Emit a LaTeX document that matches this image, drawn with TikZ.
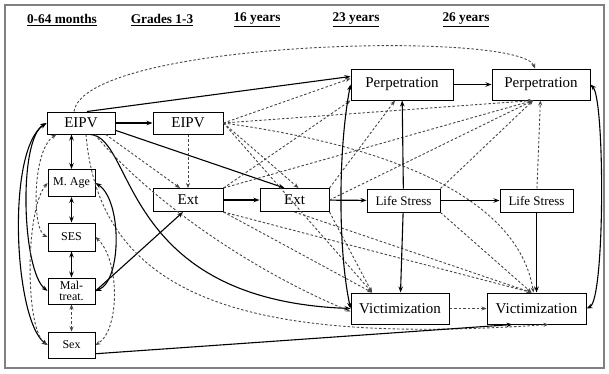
\documentclass[tikz,border=0pt]{standalone}
\usepackage{fontspec}
\setmainfont{Liberation Serif}
\usetikzlibrary{arrows.meta}
\tikzset{
  box/.style={draw,line width=1pt,inner sep=0pt,font=\fontsize{15}{16}\selectfont},
  sbox/.style={box,font=\fontsize{12}{12.5}\selectfont},
  hdr/.style={font=\fontsize{13.3}{14}\selectfont\bfseries},
  sol/.style={black,line width=1.1pt,-{Stealth[length=6pt,width=4.5pt]}},
  both/.style={sol,{Stealth[length=6pt,width=4.5pt]}-{Stealth[length=6pt,width=4.5pt]}},
  dsh/.style={gray!55!black,line width=0.9pt,dash pattern=on 2.5pt off 2pt,-{Stealth[length=5pt,width=4pt]}},
  dboth/.style={dsh,{Stealth[length=5pt,width=4pt]}-{Stealth[length=5pt,width=4pt]}},
}
\begin{document}
\begin{tikzpicture}[x=1pt,y=-1pt]
		\useasboundingbox (0,0) rectangle (609,373);
		\draw[gray,line width=1.5pt](5,5) rectangle (604,368);
		
		\node[hdr](h1) at (62,20){\underline{0-64 months}};
		\node[hdr](h2) at (162,20){\underline{Grades 1-3}};
		\node[hdr](h3) at (257,20){\underline{16 years}};
		\node[hdr](h4) at (356,20){\underline{23 years}};
		\node[hdr](h5) at (466,20){\underline{26 years}};
		
		\node[box,minimum width=68pt,minimum height=22pt](e1) at (81,123){EIPV};
		\node[sbox,minimum width=47pt,minimum height=27pt](age) at (71.5,183){M. Age};
		\node[sbox,minimum width=47pt,minimum height=28pt](ses) at (71.5,237){SES};
		\node[sbox,minimum width=47pt,minimum height=26pt,align=center](mal) at (71.5,291){Mal-\\[-2pt]treat.};
		\node[sbox,minimum width=47pt,minimum height=26pt](sex) at (71.5,345){Sex};
		
		\node[box,minimum width=70pt,minimum height=22pt](e2) at (188,123){EIPV};
		\node[box,minimum width=70pt,minimum height=23pt](x1) at (188,200){Ext};
		\node[box,minimum width=69pt,minimum height=23pt](x2) at (294.5,200){Ext};
		
		\node[box,minimum width=102pt,minimum height=31pt](p23) at (402,84.5){Perpetration};
		\node[box,minimum width=98pt,minimum height=31pt](p26) at (541,84.5){Perpetration};
		\node[sbox,font=\fontsize{13}{14}\selectfont,minimum width=73pt,minimum height=23pt](ls23) at (403.5,200.5){Life Stress};
		\node[sbox,font=\fontsize{13}{14}\selectfont,minimum width=73pt,minimum height=23pt](ls26) at (536.5,200.5){Life Stress};
		\node[box,minimum width=98pt,minimum height=31pt](v23) at (400,308.5){Victimization};
		\node[box,minimum width=99pt,minimum height=31pt](v26) at (536.5,308.5){Victimization};
		
		% 0-64 months
		\draw[both](age.north |- e1.south)--(age.north);
		\draw[both](age)--(ses);
		\draw[both](ses)--(mal);
		\draw[dboth](mal)--(sex);
		\draw[both](e1.west) .. controls (6,150) and (14,320) .. (sex.west);
		\draw[both](e1.west) .. controls (18,140) and (22,270) .. (mal.west);
		\draw[dboth](e1.205) .. controls (32,150) and (32,230) .. (ses.west);
		\draw[dboth](age.west) .. controls (25,210) and (25,330) .. (sex.west);
		\draw[both](age.east) .. controls (122,200) and (122,280) .. (mal.east);
		\draw[dboth](ses.east) .. controls (120,260) and (120,330) .. (sex.east);
		
		% Grades 1-3
		\draw[sol](e1)--(e2);
		\draw[sol]([xshift=6pt]e1.north)--([yshift=8pt]p23.west);
		\draw[sol](e1.-12)--([xshift=-10pt]x2.north);
		\draw[sol](e1.-50) .. controls (135,138) and (120,300) .. (v23.west);
		\draw[sol](mal.east)--([xshift=-5pt]x1.south);
		\draw[dsh](e2)--(x1);
		\draw[dsh](e1.-25)--([xshift=-8pt]x1.north);
		\draw[dsh]([xshift=-7pt]e1.north) .. controls (85,40) and (520,30) .. ([xshift=-6pt]p26.north);
		\draw[dsh](e1.-40) .. controls (150,200) and (250,270) .. ([yshift=-3pt]v23.west);
		\draw[dsh]([xshift=5pt]e1.south) .. controls (100,300) and (250,345) .. ([xshift=12pt]v26.south);
		
		% 16 years
		\draw[sol](x1)--(x2);
		\draw[sol](x2)--(ls23);
		\draw[dsh](e2.east)--([xshift=4pt]x2.north);
		
		% dashed paths to 23 and 26 years
		\draw[dsh](e2.east)--([yshift=6pt]p23.west);
		\draw[dsh](e2.east)--([xshift=-8pt]p26.south);
		\draw[dsh](e2.east)--([xshift=-28pt]v23.north);
		\draw[dsh](e2.east) .. controls (420,150) and (520,210) .. ([xshift=-3pt]v26.north);
		\draw[dsh](x1.north east)--(p23.south west);
		\draw[dsh](x1.north east)--([xshift=-8pt]p26.south);
		\draw[dsh](x1.south east)--([xshift=-28pt]v23.north);
		\draw[dsh](x1.south east)--([xshift=-5pt]v26.north);
		\draw[dsh](x2.north east)--([xshift=-7pt]p23.south);
		\draw[dsh](x2.east)--([xshift=-8pt]p26.south);
		\draw[dsh](x2.south east)--([xshift=-28pt]v23.north);
		\draw[dsh](x2.south)--([xshift=-5pt]v26.north);
		\draw[dsh](ls23.north east)--([xshift=-8pt]p26.south);
		\draw[dsh](ls23.south east)--([xshift=-5pt]v26.north);
		
		% 23 and 26 years
		\draw[sol](ls23)--(ls26);
		\draw[sol](ls23)--(p23);
		\draw[sol](ls23)--(v23);
		\draw[sol](ls26)--(v26);
		\draw[sol](p23)--(p26);
		\draw[dsh](v23)--(v26);
		\draw[dsh](ls26)--(p26);
		\draw[both](p23.west) .. controls (338,150) and (338,250) .. (v23.west);
		\draw[both](p26.east) .. controls (605,100) and (605,300) .. (v26.east);
		\draw[sol](sex.-20)--([xshift=-24pt]v26.south);
		\end{tikzpicture}
\end{document}
